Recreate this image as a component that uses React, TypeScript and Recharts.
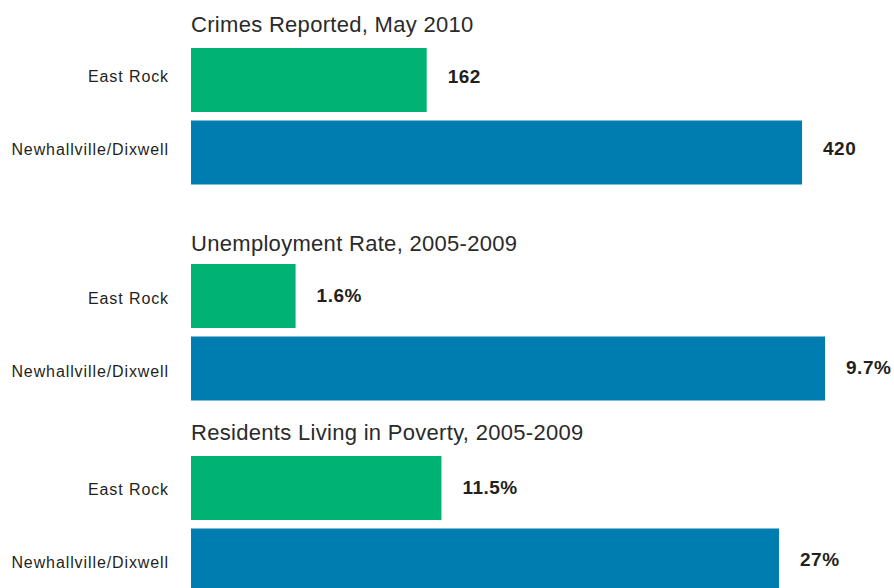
import React from 'react';
import { BarChart, Bar, XAxis, YAxis, Cell, LabelList } from 'recharts';

const categories = ['East Rock', 'Newhallville/Dixwell'];
const crimes = [162, 420];
const unemployment = [1.6, 9.7];
const poverty = [11.5, 27];
const titles = ['Crimes Reported, May 2010', 'Unemployment Rate, 2005-2009', 'Residents Living in Poverty, 2005-2009'];
const suffixes = ['', '%', '%'];

const colors = ['#00B274', '#007DB0'];
const textColor = '#231F20';
const FONT = '"Liberation Sans", Arial, Helvetica, sans-serif';

const panels = [
  { title: titles[0], values: crimes, suffix: suffixes[0], domainMax: 483.2, top: 43.5, titleY: 31.5, tickDy: -3.5, valueDy: -4 },
  { title: titles[1], values: unemployment, suffix: suffixes[1], domainMax: 10.755, top: 259.5, titleY: 251, tickDy: 2.5, valueDy: -1 },
  { title: titles[2], values: poverty, suffix: suffixes[2], domainMax: 32.28, top: 451.5, titleY: 439.5, tickDy: 1.5, valueDy: -1 },
];

const W = 894;
const PLOT_H = 145;

function ValueLabel(props: any) {
  const { x, y, width, height, value, suffix, dy } = props;
  return (
    <text
      x={x + width + 21}
      y={y + height / 2 + dy}
      textAnchor="start"
      dominantBaseline="central"
      fontFamily={FONT}
      fontSize={19}
      fontWeight="bold"
      letterSpacing={0.5}
      fill={textColor}
    >
      {`${value}${suffix}`}
    </text>
  );
}

function CategoryTick(props: any) {
  const { x, y, payload, dy } = props;
  return (
    <text
      x={x}
      y={y + dy}
      textAnchor="end"
      dominantBaseline="central"
      fontFamily={FONT}
      fontSize={16}
      letterSpacing={0.9}
      fill={textColor}
    >
      {payload.value}
    </text>
  );
}

function Panel({ p }: { p: typeof panels[number] }) {
  const data = categories.map((name, i) => ({ name, value: p.values[i] }));
  return (
    <div style={{ position: 'absolute', left: 0, top: p.top, width: W, height: PLOT_H }}>
      <BarChart
        width={W}
        height={PLOT_H}
        data={data}
        layout="vertical"
        margin={{ top: 0, right: 0, bottom: 0, left: 0 }}
        barSize={64}
        barCategoryGap={0}
      >
        <XAxis type="number" hide domain={[0, p.domainMax]} />
        <YAxis
          type="category"
          dataKey="name"
          width={191}
          axisLine={false}
          tickLine={false}
          tickSize={0}
          tickMargin={22}
          tick={(tp: any) => <CategoryTick {...tp} dy={p.tickDy} />}
        />
        <Bar dataKey="value" isAnimationActive={false}>
          {data.map((d, i) => (
            <Cell key={d.name} fill={colors[i]} />
          ))}
          <LabelList dataKey="value" content={(lp: any) => <ValueLabel {...lp} suffix={p.suffix} dy={p.valueDy} />} />
        </Bar>
      </BarChart>
    </div>
  );
}

export default function App() {
  return (
    <div style={{ position: 'absolute', left: 0, top: 0, width: W, height: 588, overflow: 'hidden', background: '#fff' }}>
      {panels.map((p) => (
        <Panel key={p.title} p={p} />
      ))}
      <svg width={W} height={588} style={{ position: 'absolute', left: 0, top: 0, pointerEvents: 'none' }}>
        {panels.map((p) => (
          <text key={p.title} x={191} y={p.titleY} fontFamily={FONT} fontSize={22} letterSpacing={0.3} fill="#2a2a2a">
            {p.title}
          </text>
        ))}
      </svg>
    </div>
  );
}
